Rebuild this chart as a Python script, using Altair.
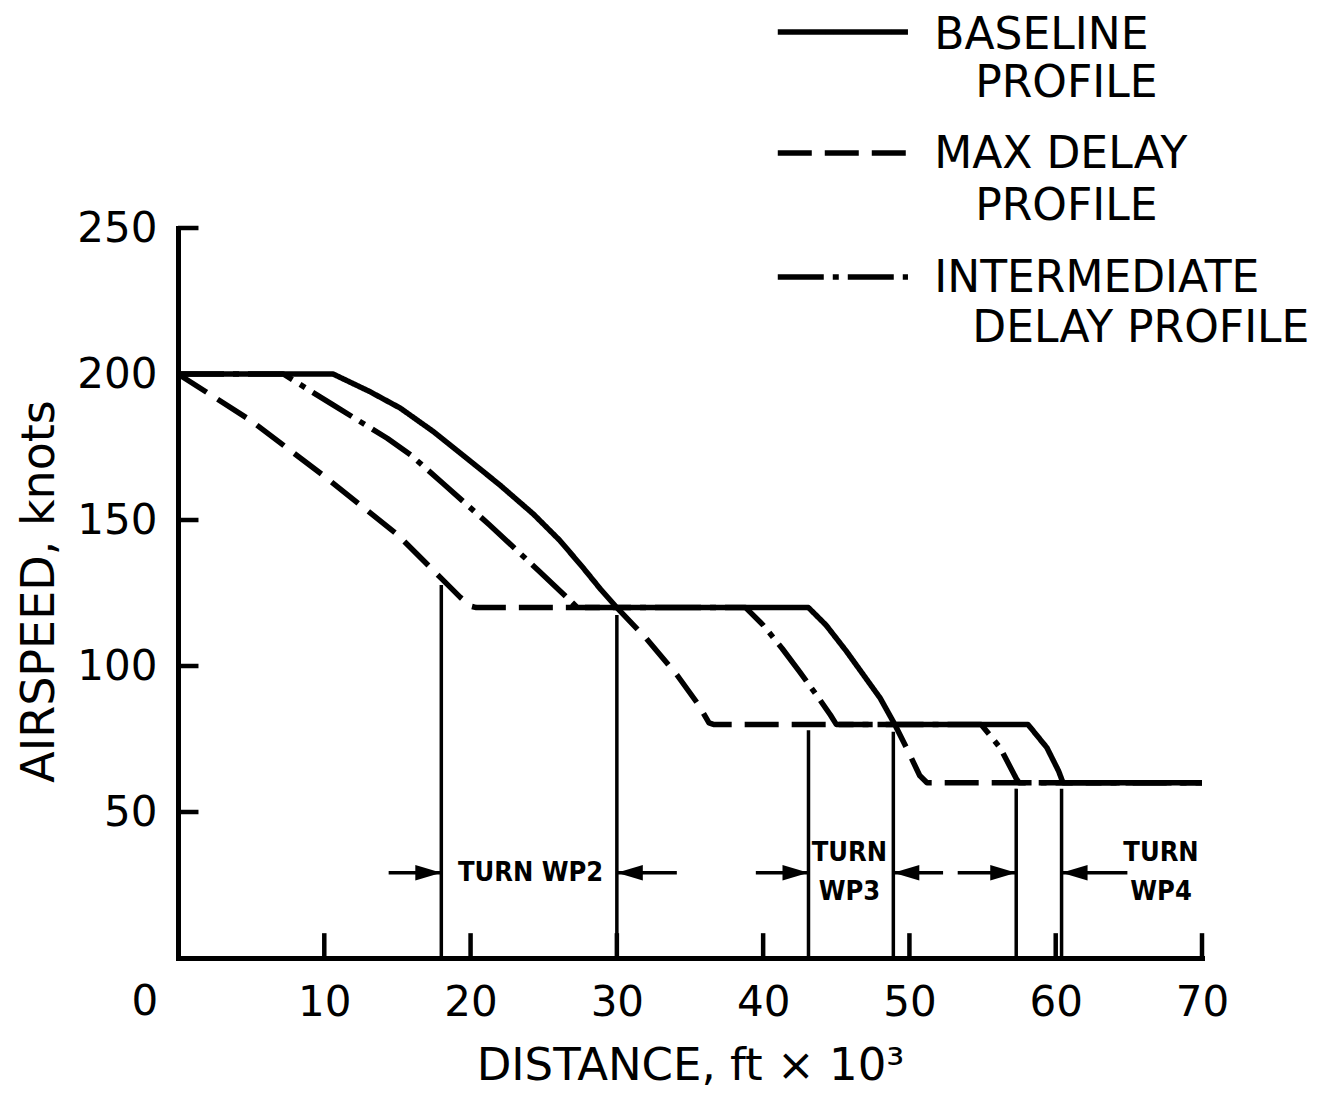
import altair as alt
import pandas as pd

# ---------------- data ----------------
profiles = ["Baseline", "Max delay", "Intermediate"]

base_x = [0, 10.6, 13.1, 15.2, 17.45, 19.7, 22.0, 24.3, 26.1, 27.7, 28.9, 30.0,
          43.1, 44.3, 45.7, 46.85, 48.0, 49.0, 58.1, 59.4, 60.2, 60.5, 70]
base_y = [200, 200, 194, 188.3, 180.3, 171.3, 162, 152, 143, 133.6, 126.2, 120,
          120, 114, 105, 97, 89, 80, 80, 72, 64, 60, 60]

max_x = [0, 5, 10, 15, 18, 19.3, 20.0, 20.4, 30.0, 32.0, 34.1, 35.6, 36.3, 36.6, 49.0, 49.8, 50.7, 51.2, 70]
max_y = [200, 184, 165, 145, 130, 123.5, 120.5, 120, 120, 109.5, 97, 86.6, 80.5, 80, 80, 72, 62.5, 60, 60]

int_x = [0, 7.2, 10.6, 14.3, 15.9, 18.1, 21.3, 24.6, 27.0, 27.3,
         38.8, 40.0, 41.3, 42.5, 43.8, 44.6, 45.0, 54.9, 56.2, 57.3, 57.5, 70]
int_y = [200, 200, 189.4, 178, 172.3, 162.6, 148.3, 132.9, 121.5, 120,
         120, 114, 106, 98, 89, 83.2, 80, 80, 72, 61.5, 60, 60]

# turn boundaries (vertical lines)
turn_x = [18.0, 30.0, 43.1, 48.9, 57.3, 60.4]
turn_top = [127.7, 117.5, 78.0, 77.5, 58.0, 58.0]

# arrows
arrow_from = [14.4, 34.1, 39.5, 52.3, 53.3, 64.9]
arrow_to = [18.0, 30.0, 43.1, 48.9, 57.3, 60.4]
arrow_level = 29.2

# turn labels
turn_text = ["TURN  WP2", "TURN", "WP3", "TURN", "WP4"]
turn_text_x = [24.1, 45.9, 45.9, 67.2, 67.2]
turn_text_y = [29.2, 36.0, 22.6, 36.0, 22.6]

# axis ticks / labels
x_ticks = [10, 20, 30, 40, 50, 60, 70]
y_ticks = [50, 100, 150, 200, 250]

# legend
legend_profiles = ["Baseline", "Max delay", "Intermediate"]
legend_x0, legend_x1 = 41.0, 49.9
legend_line_y = [317.1, 275.7, 233.2]
legend_text = ["BASELINE", "PROFILE", "MAX DELAY", "PROFILE", "INTERMEDIATE", "DELAY PROFILE"]
legend_text_x = [51.7, 54.5, 51.7, 54.5, 51.7, 54.3]
legend_text_y = [315.9, 299.3, 275.0, 257.2, 232.5, 215.4]

# ---------------- tables ----------------
rows = []
for name, xs_, ys_ in [("Baseline", base_x, base_y), ("Max delay", max_x, max_y), ("Intermediate", int_x, int_y)]:
    for a, b in zip(xs_, ys_):
        rows.append({"profile": name, "distance": a, "airspeed": b})
df = pd.DataFrame(rows)

turns = pd.DataFrame({"x": turn_x, "y0": [0] * len(turn_x), "y1": turn_top})
arrows = pd.DataFrame({
    "x0": arrow_from, "x1": arrow_to, "y": [arrow_level] * len(arrow_to),
    "dir": ["right" if t > f else "left" for f, t in zip(arrow_from, arrow_to)],
})
tlabels = pd.DataFrame({"t": turn_text, "x": turn_text_x, "y": turn_text_y})
xt = pd.DataFrame({"x": x_ticks, "y0": [0] * len(x_ticks), "y1": [8.5] * len(x_ticks)})
yt = pd.DataFrame({"y": y_ticks, "x0": [0] * len(y_ticks), "x1": [1.4] * len(y_ticks)})
zero_lab = pd.DataFrame({"t": ["0"], "x": [-2.26], "y": [-8.2]})
leg_lines = pd.DataFrame({"profile": legend_profiles, "x0": [legend_x0] * 3, "x1": [legend_x1] * 3, "y": legend_line_y})
leg_text = pd.DataFrame({"t": legend_text, "x": legend_text_x, "y": legend_text_y})

# ---------------- scales / axes ----------------
FONT = "DejaVu Sans"
xs = alt.Scale(domain=[0, 70], nice=False, zero=False)
ys = alt.Scale(domain=[0, 250], nice=False, zero=False)
dash_scale = alt.Scale(domain=profiles, range=[[1, 0], [34, 13], [46, 9, 6, 9]])

x_axis = alt.Axis(
    title="DISTANCE, ft × 10³", values=x_ticks, ticks=False, tickSize=0, grid=False,
    labelPadding=24, labelFontSize=42, labelFont=FONT, labelFlush=False, labelOverlap=False,
    labelColor="black", titleFont=FONT, titleFontSize=45, titleFontWeight="normal",
    titleColor="black", titleY=121, titleBaseline="alphabetic",
    domainColor="black", domainWidth=5, domainCap="square",
)
y_axis = alt.Axis(
    title="AIRSPEED, knots", values=y_ticks, ticks=False, tickSize=0, grid=False,
    labelPadding=21, labelFontSize=42, labelFont=FONT, labelFlush=False, labelOverlap=False,
    labelColor="black", titleFont=FONT, titleFontSize=46, titleFontWeight="normal",
    titleColor="black", titleAngle=270, titleX=-125, titleY=363, titleAlign="center",
    titleBaseline="alphabetic",
    domainColor="black", domainWidth=5, domainCap="square",
)


def X(field):
    return alt.X(field, type="quantitative", scale=xs, axis=x_axis)


def Y(field):
    return alt.Y(field, type="quantitative", scale=ys, axis=y_axis)


# ---------------- layers ----------------
def profile_layer(name):
    return alt.Chart(df).transform_filter(alt.datum.profile == name).mark_line(
        color="black", strokeWidth=5.5, strokeCap="butt", strokeJoin="round", clip=False
    ).encode(
        x=X("distance"), y=Y("airspeed"),
        strokeDash=alt.StrokeDash("profile:N", scale=dash_scale, legend=None),
        order="distance:Q",
    )

lines = [profile_layer("Max delay"), profile_layer("Intermediate"), profile_layer("Baseline")]

turn_rules = alt.Chart(turns).mark_rule(color="black", strokeWidth=3.5).encode(
    x=X("x"), y=Y("y0"), y2="y1")

shafts = alt.Chart(arrows).mark_rule(color="black", strokeWidth=3.5).encode(
    x=X("x0"), x2="x1", y=Y("y"))

heads = alt.Chart(arrows).mark_point(filled=True, size=2700, opacity=1, strokeWidth=0, color="black").encode(
    x=X("x1"), y=Y("y"),
    shape=alt.Shape("dir:N", scale=alt.Scale(domain=["right", "left"],
                    range=["M0,0L-1,-0.3L-1,0.3Z", "M0,0L1,-0.3L1,0.3Z"]), legend=None),
)

turn_labels = alt.Chart(tlabels).mark_text(
    font="DejaVu Sans Condensed, DejaVu Sans", fontWeight="bold",
    fontSize=27, color="black", align="center", baseline="middle").encode(
    x=X("x"), y=Y("y"), text="t:N")

x_tick_rules = alt.Chart(xt).mark_rule(color="black", strokeWidth=4.5).encode(
    x=X("x"), y=Y("y0"), y2="y1")
y_tick_rules = alt.Chart(yt).mark_rule(color="black", strokeWidth=4.5).encode(
    y=Y("y"), x=X("x0"), x2="x1")

zero_label = alt.Chart(zero_lab).mark_text(font=FONT, fontSize=42, color="black",
                                           align="center", baseline="top").encode(
    x=X("x"), y=Y("y"), text="t:N")

legend_lines = alt.Chart(leg_lines).mark_rule(color="black", strokeWidth=5.5, strokeCap="butt").encode(
    x=X("x0"), x2="x1", y=Y("y"),
    strokeDash=alt.StrokeDash("profile:N", scale=dash_scale, legend=None))

legend_labels = alt.Chart(leg_text).mark_text(font=FONT, fontSize=44, color="black",
                                              align="left", baseline="middle").encode(
    x=X("x"), y=Y("y"), text="t:N")

chart = alt.layer(
    turn_rules, shafts, heads, turn_labels, x_tick_rules, y_tick_rules,
    *lines, zero_label, legend_lines, legend_labels,
).properties(
    width=1024, height=730,
    autosize=alt.AutoSizeParams(type="none"),
    padding={"left": 170, "top": 220, "right": 116, "bottom": 132},
    background="white",
).configure_view(stroke=None)

chart.save("out.html", embed_options={"renderer": "svg", "actions": False})
